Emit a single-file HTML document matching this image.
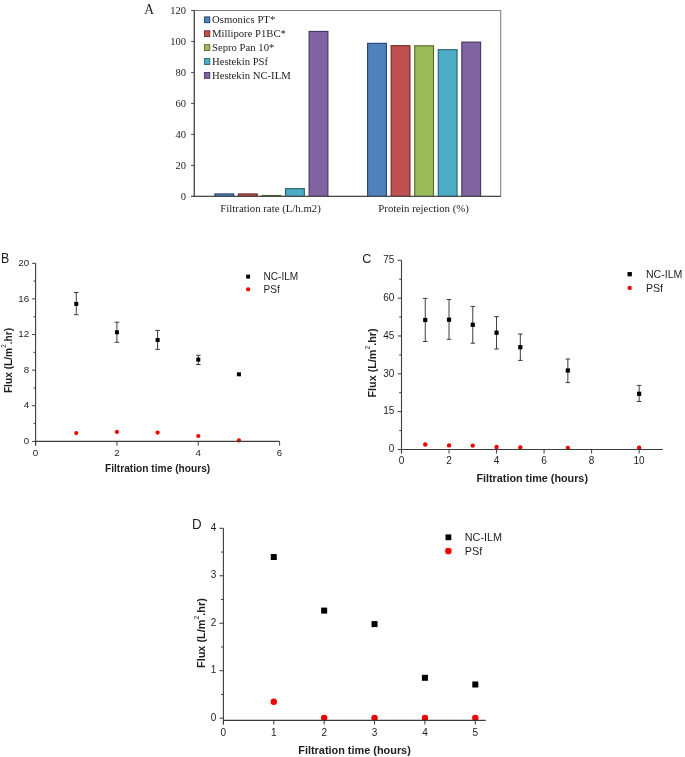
<!DOCTYPE html>
<html><head><meta charset="utf-8"><title>Figure</title>
<style>
html,body{margin:0;padding:0;background:#fff;}
body{width:685px;height:757px;overflow:hidden;}
svg{display:block;will-change:transform;}
</style></head>
<body>
<svg width="685" height="757" viewBox="0 0 685 757">
<rect width="685" height="757" fill="#fff"/>
<g id="pA">
<text x="144.2" y="13.9" font-family='"Liberation Serif", serif' font-size="13.6" fill="#1e1e1e">A</text>
<rect x="194.3" y="10.5" width="306.4" height="185.9" fill="none" stroke="#7a7a7a" stroke-width="1"/>
<rect x="214.9" y="193.92" width="18.8" height="2.48" fill="#4f81bd" stroke="#24406b" stroke-width="1.1"/>
<rect x="238.45" y="193.92" width="18.8" height="2.48" fill="#c0504d" stroke="#6b2a28" stroke-width="1.1"/>
<rect x="262" y="195.47" width="18.8" height="0.93" fill="#9bbb59" stroke="#4f6a28" stroke-width="1.1"/>
<rect x="285.55" y="188.65" width="18.8" height="7.75" fill="#4bacc6" stroke="#22606f" stroke-width="1.1"/>
<rect x="309.1" y="31.41" width="18.8" height="164.99" fill="#8064a2" stroke="#453560" stroke-width="1.1"/>
<rect x="367.6" y="43.34" width="18.8" height="153.06" fill="#4f81bd" stroke="#24406b" stroke-width="1.1"/>
<rect x="391.15" y="45.67" width="18.8" height="150.73" fill="#c0504d" stroke="#6b2a28" stroke-width="1.1"/>
<rect x="414.7" y="45.82" width="18.8" height="150.58" fill="#9bbb59" stroke="#4f6a28" stroke-width="1.1"/>
<rect x="438.25" y="49.69" width="18.8" height="146.71" fill="#4bacc6" stroke="#22606f" stroke-width="1.1"/>
<rect x="461.8" y="42.1" width="18.8" height="154.3" fill="#8064a2" stroke="#453560" stroke-width="1.1"/>
<line x1="194.3" y1="10.5" x2="194.3" y2="196.4" stroke="#4a4a4a" stroke-width="1.2"/>
<line x1="191.1" y1="196.4" x2="500.7" y2="196.4" stroke="#4a4a4a" stroke-width="1.2"/>
<line x1="191.1" y1="196.4" x2="194.3" y2="196.4" stroke="#4a4a4a" stroke-width="1"/>
<text x="185.9" y="199.8" text-anchor="end" font-family='"Liberation Serif", serif' font-size="10.5" fill="#1e1e1e">0</text>
<line x1="191.1" y1="165.42" x2="194.3" y2="165.42" stroke="#4a4a4a" stroke-width="1"/>
<text x="185.9" y="168.82" text-anchor="end" font-family='"Liberation Serif", serif' font-size="10.5" fill="#1e1e1e">20</text>
<line x1="191.1" y1="134.43" x2="194.3" y2="134.43" stroke="#4a4a4a" stroke-width="1"/>
<text x="185.9" y="137.83" text-anchor="end" font-family='"Liberation Serif", serif' font-size="10.5" fill="#1e1e1e">40</text>
<line x1="191.1" y1="103.45" x2="194.3" y2="103.45" stroke="#4a4a4a" stroke-width="1"/>
<text x="185.9" y="106.85" text-anchor="end" font-family='"Liberation Serif", serif' font-size="10.5" fill="#1e1e1e">60</text>
<line x1="191.1" y1="72.47" x2="194.3" y2="72.47" stroke="#4a4a4a" stroke-width="1"/>
<text x="185.9" y="75.87" text-anchor="end" font-family='"Liberation Serif", serif' font-size="10.5" fill="#1e1e1e">80</text>
<line x1="191.1" y1="41.48" x2="194.3" y2="41.48" stroke="#4a4a4a" stroke-width="1"/>
<text x="185.9" y="44.88" text-anchor="end" font-family='"Liberation Serif", serif' font-size="10.5" fill="#1e1e1e">100</text>
<line x1="191.1" y1="10.5" x2="194.3" y2="10.5" stroke="#4a4a4a" stroke-width="1"/>
<text x="185.9" y="13.9" text-anchor="end" font-family='"Liberation Serif", serif' font-size="10.5" fill="#1e1e1e">120</text>
<rect x="204.4" y="16.9" width="5.4" height="5.8" fill="#4f81bd" stroke="#24406b" stroke-width="0.9"/>
<text x="212" y="23.2" font-family='"Liberation Serif", serif' font-size="10.7" fill="#1e1e1e">Osmonics PT*</text>
<rect x="204.4" y="30.8" width="5.4" height="5.8" fill="#c0504d" stroke="#6b2a28" stroke-width="0.9"/>
<text x="212" y="37.1" font-family='"Liberation Serif", serif' font-size="10.7" fill="#1e1e1e">Millipore P1BC*</text>
<rect x="204.4" y="44.7" width="5.4" height="5.8" fill="#9bbb59" stroke="#4f6a28" stroke-width="0.9"/>
<text x="212" y="51" font-family='"Liberation Serif", serif' font-size="10.7" fill="#1e1e1e">Sepro Pan 10*</text>
<rect x="204.4" y="58.6" width="5.4" height="5.8" fill="#4bacc6" stroke="#22606f" stroke-width="0.9"/>
<text x="212" y="64.9" font-family='"Liberation Serif", serif' font-size="10.7" fill="#1e1e1e">Hestekin PSf</text>
<rect x="204.4" y="72.5" width="5.4" height="5.8" fill="#8064a2" stroke="#453560" stroke-width="0.9"/>
<text x="212" y="78.8" font-family='"Liberation Serif", serif' font-size="10.7" fill="#1e1e1e">Hestekin NC-ILM</text>
<text x="270.6" y="211.9" text-anchor="middle" font-family='"Liberation Serif", serif' font-size="10.8" fill="#1e1e1e">Filtration rate (L/h.m2)</text>
<text x="423.6" y="211.9" text-anchor="middle" font-family='"Liberation Serif", serif' font-size="10.8" fill="#1e1e1e">Protein rejection (%)</text>
</g>
<g>
<text transform="translate(1,263) scale(0.88,1)" font-family='"Liberation Sans", sans-serif' font-size="14.0" fill="#1e1e1e">B</text>
<line x1="76.27" y1="292.5" x2="76.27" y2="314.7" stroke="#3c3c3c" stroke-width="1"/>
<line x1="73.97" y1="292.5" x2="78.57" y2="292.5" stroke="#3c3c3c" stroke-width="1"/>
<line x1="73.97" y1="314.7" x2="78.57" y2="314.7" stroke="#3c3c3c" stroke-width="1"/>
<rect x="74.27" y="301.9" width="4.0" height="4.0" fill="#000"/>
<line x1="116.93" y1="322.2" x2="116.93" y2="342.3" stroke="#3c3c3c" stroke-width="1"/>
<line x1="114.63" y1="322.2" x2="119.23" y2="322.2" stroke="#3c3c3c" stroke-width="1"/>
<line x1="114.63" y1="342.3" x2="119.23" y2="342.3" stroke="#3c3c3c" stroke-width="1"/>
<rect x="114.93" y="330.3" width="4.0" height="4.0" fill="#000"/>
<line x1="157.6" y1="330.4" x2="157.6" y2="349.4" stroke="#3c3c3c" stroke-width="1"/>
<line x1="155.3" y1="330.4" x2="159.9" y2="330.4" stroke="#3c3c3c" stroke-width="1"/>
<line x1="155.3" y1="349.4" x2="159.9" y2="349.4" stroke="#3c3c3c" stroke-width="1"/>
<rect x="155.6" y="338" width="4.0" height="4.0" fill="#000"/>
<line x1="198.27" y1="355.3" x2="198.27" y2="364.5" stroke="#3c3c3c" stroke-width="1"/>
<line x1="195.97" y1="355.3" x2="200.57" y2="355.3" stroke="#3c3c3c" stroke-width="1"/>
<line x1="195.97" y1="364.5" x2="200.57" y2="364.5" stroke="#3c3c3c" stroke-width="1"/>
<rect x="196.27" y="357.6" width="4.0" height="4.0" fill="#000"/>
<rect x="236.93" y="372.3" width="4.0" height="4.0" fill="#000"/>
<circle cx="76.27" cy="433.1" r="2.1" fill="#f20000"/>
<circle cx="116.93" cy="431.9" r="2.1" fill="#f20000"/>
<circle cx="157.6" cy="432.6" r="2.1" fill="#f20000"/>
<circle cx="198.27" cy="436" r="2.1" fill="#f20000"/>
<circle cx="238.93" cy="440.4" r="2.1" fill="#f20000"/>
<line x1="35.6" y1="263.3" x2="35.6" y2="445.6" stroke="#3c3c3c" stroke-width="1.1"/>
<line x1="35.6" y1="441.4" x2="279.6" y2="441.4" stroke="#3c3c3c" stroke-width="1.1"/>
<line x1="32.1" y1="441.4" x2="35.6" y2="441.4" stroke="#3c3c3c" stroke-width="1"/>
<text x="29.1" y="444.1" text-anchor="end" font-family='"Liberation Sans", sans-serif' font-size="9.8" fill="#1e1e1e">0</text>
<line x1="32.1" y1="405.78" x2="35.6" y2="405.78" stroke="#3c3c3c" stroke-width="1"/>
<text x="29.1" y="408.48" text-anchor="end" font-family='"Liberation Sans", sans-serif' font-size="9.8" fill="#1e1e1e">4</text>
<line x1="32.1" y1="370.16" x2="35.6" y2="370.16" stroke="#3c3c3c" stroke-width="1"/>
<text x="29.1" y="372.86" text-anchor="end" font-family='"Liberation Sans", sans-serif' font-size="9.8" fill="#1e1e1e">8</text>
<line x1="32.1" y1="334.54" x2="35.6" y2="334.54" stroke="#3c3c3c" stroke-width="1"/>
<text x="29.1" y="337.24" text-anchor="end" font-family='"Liberation Sans", sans-serif' font-size="9.8" fill="#1e1e1e">12</text>
<line x1="32.1" y1="298.92" x2="35.6" y2="298.92" stroke="#3c3c3c" stroke-width="1"/>
<text x="29.1" y="301.62" text-anchor="end" font-family='"Liberation Sans", sans-serif' font-size="9.8" fill="#1e1e1e">16</text>
<line x1="32.1" y1="263.3" x2="35.6" y2="263.3" stroke="#3c3c3c" stroke-width="1"/>
<text x="29.1" y="266" text-anchor="end" font-family='"Liberation Sans", sans-serif' font-size="9.8" fill="#1e1e1e">20</text>
<line x1="33.5" y1="423.59" x2="35.6" y2="423.59" stroke="#3c3c3c" stroke-width="1"/>
<line x1="33.5" y1="387.97" x2="35.6" y2="387.97" stroke="#3c3c3c" stroke-width="1"/>
<line x1="33.5" y1="352.35" x2="35.6" y2="352.35" stroke="#3c3c3c" stroke-width="1"/>
<line x1="33.5" y1="316.73" x2="35.6" y2="316.73" stroke="#3c3c3c" stroke-width="1"/>
<line x1="33.5" y1="281.11" x2="35.6" y2="281.11" stroke="#3c3c3c" stroke-width="1"/>
<line x1="35.6" y1="441.4" x2="35.6" y2="445.6" stroke="#3c3c3c" stroke-width="1"/>
<text x="35.6" y="455.8" text-anchor="middle" font-family='"Liberation Sans", sans-serif' font-size="9.8" fill="#1e1e1e">0</text>
<line x1="116.93" y1="441.4" x2="116.93" y2="445.6" stroke="#3c3c3c" stroke-width="1"/>
<text x="116.93" y="455.8" text-anchor="middle" font-family='"Liberation Sans", sans-serif' font-size="9.8" fill="#1e1e1e">2</text>
<line x1="198.27" y1="441.4" x2="198.27" y2="445.6" stroke="#3c3c3c" stroke-width="1"/>
<text x="198.27" y="455.8" text-anchor="middle" font-family='"Liberation Sans", sans-serif' font-size="9.8" fill="#1e1e1e">4</text>
<line x1="279.6" y1="441.4" x2="279.6" y2="445.6" stroke="#3c3c3c" stroke-width="1"/>
<text x="279.6" y="455.8" text-anchor="middle" font-family='"Liberation Sans", sans-serif' font-size="9.8" fill="#1e1e1e">6</text>
<text x="157.6" y="472.4" text-anchor="middle" font-family='"Liberation Sans", sans-serif' font-weight="bold" font-size="10.2" fill="#1e1e1e">Filtration time (hours)</text>
<text transform="translate(11.9,360.5) rotate(-90)" text-anchor="middle" font-family='"Liberation Sans", sans-serif' font-weight="bold" font-size="10.2" fill="#1e1e1e">Flux (L/m<tspan font-size="6.32" font-weight="normal" dy="-6.12">2</tspan><tspan dy="6.12">.hr)</tspan></text>
<rect x="246.15" y="274.65" width="3.9" height="3.9" fill="#000"/>
<text x="263.5" y="280.3" font-family='"Liberation Sans", sans-serif' font-size="10.1" fill="#1e1e1e">NC-ILM</text>
<circle cx="248.1" cy="289.3" r="2.1" fill="#f20000"/>
<text x="263.5" y="292.6" font-family='"Liberation Sans", sans-serif' font-size="10.1" fill="#1e1e1e">PSf</text>
</g>
<g>
<text transform="translate(362.3,262.8) scale(0.92,1)" font-family='"Liberation Sans", sans-serif' font-size="13.6" fill="#1e1e1e">C</text>
<line x1="425.26" y1="298.4" x2="425.26" y2="341.5" stroke="#3c3c3c" stroke-width="1"/>
<line x1="422.96" y1="298.4" x2="427.56" y2="298.4" stroke="#3c3c3c" stroke-width="1"/>
<line x1="422.96" y1="341.5" x2="427.56" y2="341.5" stroke="#3c3c3c" stroke-width="1"/>
<rect x="423.16" y="317.9" width="4.2" height="4.2" fill="#000"/>
<line x1="449.03" y1="299.5" x2="449.03" y2="339.3" stroke="#3c3c3c" stroke-width="1"/>
<line x1="446.73" y1="299.5" x2="451.33" y2="299.5" stroke="#3c3c3c" stroke-width="1"/>
<line x1="446.73" y1="339.3" x2="451.33" y2="339.3" stroke="#3c3c3c" stroke-width="1"/>
<rect x="446.93" y="317.6" width="4.2" height="4.2" fill="#000"/>
<line x1="472.79" y1="306.4" x2="472.79" y2="343.2" stroke="#3c3c3c" stroke-width="1"/>
<line x1="470.49" y1="306.4" x2="475.09" y2="306.4" stroke="#3c3c3c" stroke-width="1"/>
<line x1="470.49" y1="343.2" x2="475.09" y2="343.2" stroke="#3c3c3c" stroke-width="1"/>
<rect x="470.69" y="322.7" width="4.2" height="4.2" fill="#000"/>
<line x1="496.55" y1="316.6" x2="496.55" y2="349" stroke="#3c3c3c" stroke-width="1"/>
<line x1="494.25" y1="316.6" x2="498.85" y2="316.6" stroke="#3c3c3c" stroke-width="1"/>
<line x1="494.25" y1="349" x2="498.85" y2="349" stroke="#3c3c3c" stroke-width="1"/>
<rect x="494.45" y="330.6" width="4.2" height="4.2" fill="#000"/>
<line x1="520.32" y1="334" x2="520.32" y2="360.4" stroke="#3c3c3c" stroke-width="1"/>
<line x1="518.02" y1="334" x2="522.62" y2="334" stroke="#3c3c3c" stroke-width="1"/>
<line x1="518.02" y1="360.4" x2="522.62" y2="360.4" stroke="#3c3c3c" stroke-width="1"/>
<rect x="518.22" y="345.1" width="4.2" height="4.2" fill="#000"/>
<line x1="567.85" y1="359" x2="567.85" y2="382.6" stroke="#3c3c3c" stroke-width="1"/>
<line x1="565.55" y1="359" x2="570.15" y2="359" stroke="#3c3c3c" stroke-width="1"/>
<line x1="565.55" y1="382.6" x2="570.15" y2="382.6" stroke="#3c3c3c" stroke-width="1"/>
<rect x="565.75" y="368.4" width="4.2" height="4.2" fill="#000"/>
<line x1="639.14" y1="385.4" x2="639.14" y2="401.5" stroke="#3c3c3c" stroke-width="1"/>
<line x1="636.84" y1="385.4" x2="641.44" y2="385.4" stroke="#3c3c3c" stroke-width="1"/>
<line x1="636.84" y1="401.5" x2="641.44" y2="401.5" stroke="#3c3c3c" stroke-width="1"/>
<rect x="637.04" y="391.7" width="4.2" height="4.2" fill="#000"/>
<circle cx="425.26" cy="444.5" r="2.2" fill="#f20000"/>
<circle cx="449.03" cy="445.4" r="2.2" fill="#f20000"/>
<circle cx="472.79" cy="445.6" r="2.2" fill="#f20000"/>
<circle cx="496.55" cy="447" r="2.2" fill="#f20000"/>
<circle cx="520.32" cy="447.5" r="2.2" fill="#f20000"/>
<circle cx="567.85" cy="447.9" r="2.2" fill="#f20000"/>
<circle cx="639.14" cy="447.7" r="2.2" fill="#f20000"/>
<line x1="401.5" y1="260.3" x2="401.5" y2="453.5" stroke="#3c3c3c" stroke-width="1.1"/>
<line x1="401.5" y1="449.5" x2="662.9" y2="449.5" stroke="#3c3c3c" stroke-width="1.1"/>
<line x1="397.7" y1="449.5" x2="401.5" y2="449.5" stroke="#3c3c3c" stroke-width="1"/>
<text x="394.4" y="452.3" text-anchor="end" font-family='"Liberation Sans", sans-serif' font-size="10.0" fill="#1e1e1e">0</text>
<line x1="397.7" y1="411.66" x2="401.5" y2="411.66" stroke="#3c3c3c" stroke-width="1"/>
<text x="394.4" y="414.46" text-anchor="end" font-family='"Liberation Sans", sans-serif' font-size="10.0" fill="#1e1e1e">15</text>
<line x1="397.7" y1="373.82" x2="401.5" y2="373.82" stroke="#3c3c3c" stroke-width="1"/>
<text x="394.4" y="376.62" text-anchor="end" font-family='"Liberation Sans", sans-serif' font-size="10.0" fill="#1e1e1e">30</text>
<line x1="397.7" y1="335.98" x2="401.5" y2="335.98" stroke="#3c3c3c" stroke-width="1"/>
<text x="394.4" y="338.78" text-anchor="end" font-family='"Liberation Sans", sans-serif' font-size="10.0" fill="#1e1e1e">45</text>
<line x1="397.7" y1="298.14" x2="401.5" y2="298.14" stroke="#3c3c3c" stroke-width="1"/>
<text x="394.4" y="300.94" text-anchor="end" font-family='"Liberation Sans", sans-serif' font-size="10.0" fill="#1e1e1e">60</text>
<line x1="397.7" y1="260.3" x2="401.5" y2="260.3" stroke="#3c3c3c" stroke-width="1"/>
<text x="394.4" y="263.1" text-anchor="end" font-family='"Liberation Sans", sans-serif' font-size="10.0" fill="#1e1e1e">75</text>
<line x1="399.22" y1="430.58" x2="401.5" y2="430.58" stroke="#3c3c3c" stroke-width="1"/>
<line x1="399.22" y1="392.74" x2="401.5" y2="392.74" stroke="#3c3c3c" stroke-width="1"/>
<line x1="399.22" y1="354.9" x2="401.5" y2="354.9" stroke="#3c3c3c" stroke-width="1"/>
<line x1="399.22" y1="317.06" x2="401.5" y2="317.06" stroke="#3c3c3c" stroke-width="1"/>
<line x1="399.22" y1="279.22" x2="401.5" y2="279.22" stroke="#3c3c3c" stroke-width="1"/>
<line x1="401.5" y1="449.5" x2="401.5" y2="453.5" stroke="#3c3c3c" stroke-width="1"/>
<text x="401.5" y="463.6" text-anchor="middle" font-family='"Liberation Sans", sans-serif' font-size="10.0" fill="#1e1e1e">0</text>
<line x1="449.03" y1="449.5" x2="449.03" y2="453.5" stroke="#3c3c3c" stroke-width="1"/>
<text x="449.03" y="463.6" text-anchor="middle" font-family='"Liberation Sans", sans-serif' font-size="10.0" fill="#1e1e1e">2</text>
<line x1="496.55" y1="449.5" x2="496.55" y2="453.5" stroke="#3c3c3c" stroke-width="1"/>
<text x="496.55" y="463.6" text-anchor="middle" font-family='"Liberation Sans", sans-serif' font-size="10.0" fill="#1e1e1e">4</text>
<line x1="544.08" y1="449.5" x2="544.08" y2="453.5" stroke="#3c3c3c" stroke-width="1"/>
<text x="544.08" y="463.6" text-anchor="middle" font-family='"Liberation Sans", sans-serif' font-size="10.0" fill="#1e1e1e">6</text>
<line x1="591.61" y1="449.5" x2="591.61" y2="453.5" stroke="#3c3c3c" stroke-width="1"/>
<text x="591.61" y="463.6" text-anchor="middle" font-family='"Liberation Sans", sans-serif' font-size="10.0" fill="#1e1e1e">8</text>
<line x1="639.14" y1="449.5" x2="639.14" y2="453.5" stroke="#3c3c3c" stroke-width="1"/>
<text x="639.14" y="463.6" text-anchor="middle" font-family='"Liberation Sans", sans-serif' font-size="10.0" fill="#1e1e1e">10</text>
<text x="532.2" y="481.6" text-anchor="middle" font-family='"Liberation Sans", sans-serif' font-weight="bold" font-size="10.8" fill="#1e1e1e">Filtration time (hours)</text>
<text transform="translate(376.4,363.0) rotate(-90)" text-anchor="middle" font-family='"Liberation Sans", sans-serif' font-weight="bold" font-size="10.8" fill="#1e1e1e">Flux (L/m<tspan font-size="6.7" font-weight="normal" dy="-6.48">2</tspan><tspan dy="6.48">.hr)</tspan></text>
<rect x="627.55" y="272.05" width="4.3" height="4.3" fill="#000"/>
<text x="645.9" y="277.7" font-family='"Liberation Sans", sans-serif' font-size="10.6" fill="#1e1e1e">NC-ILM</text>
<circle cx="629.7" cy="287.9" r="2.2" fill="#f20000"/>
<text x="645.9" y="291.5" font-family='"Liberation Sans", sans-serif' font-size="10.6" fill="#1e1e1e">PSf</text>
</g>
<g>
<text transform="translate(191.9,528.9) scale(0.96,1)" font-family='"Liberation Sans", sans-serif' font-size="13.9" fill="#1e1e1e">D</text>
<rect x="270.78" y="554" width="6.0" height="6.0" fill="#000"/>
<rect x="321.16" y="607.6" width="6.0" height="6.0" fill="#000"/>
<rect x="371.54" y="621.1" width="6.0" height="6.0" fill="#000"/>
<rect x="421.92" y="674.8" width="6.0" height="6.0" fill="#000"/>
<rect x="472.3" y="681.5" width="6.0" height="6.0" fill="#000"/>
<circle cx="273.78" cy="701.7" r="3.2" fill="#f20000"/>
<circle cx="324.16" cy="718" r="3.2" fill="#f20000"/>
<circle cx="374.54" cy="718" r="3.2" fill="#f20000"/>
<circle cx="424.92" cy="718" r="3.2" fill="#f20000"/>
<circle cx="475.3" cy="718" r="3.2" fill="#f20000"/>
<line x1="223.4" y1="528.3" x2="223.4" y2="724.5" stroke="#3c3c3c" stroke-width="1.1"/>
<line x1="223.4" y1="720.4" x2="485.7" y2="720.4" stroke="#3c3c3c" stroke-width="1.1"/>
<line x1="219.5" y1="718.2" x2="223.4" y2="718.2" stroke="#3c3c3c" stroke-width="1"/>
<text x="216.3" y="720.8" text-anchor="end" font-family='"Liberation Sans", sans-serif' font-size="10.0" fill="#1e1e1e">0</text>
<line x1="219.5" y1="670.73" x2="223.4" y2="670.73" stroke="#3c3c3c" stroke-width="1"/>
<text x="216.3" y="673.33" text-anchor="end" font-family='"Liberation Sans", sans-serif' font-size="10.0" fill="#1e1e1e">1</text>
<line x1="219.5" y1="623.25" x2="223.4" y2="623.25" stroke="#3c3c3c" stroke-width="1"/>
<text x="216.3" y="625.85" text-anchor="end" font-family='"Liberation Sans", sans-serif' font-size="10.0" fill="#1e1e1e">2</text>
<line x1="219.5" y1="575.77" x2="223.4" y2="575.77" stroke="#3c3c3c" stroke-width="1"/>
<text x="216.3" y="578.38" text-anchor="end" font-family='"Liberation Sans", sans-serif' font-size="10.0" fill="#1e1e1e">3</text>
<line x1="219.5" y1="528.3" x2="223.4" y2="528.3" stroke="#3c3c3c" stroke-width="1"/>
<text x="216.3" y="530.9" text-anchor="end" font-family='"Liberation Sans", sans-serif' font-size="10.0" fill="#1e1e1e">4</text>
<line x1="221.06" y1="694.46" x2="223.4" y2="694.46" stroke="#3c3c3c" stroke-width="1"/>
<line x1="221.06" y1="646.99" x2="223.4" y2="646.99" stroke="#3c3c3c" stroke-width="1"/>
<line x1="221.06" y1="599.51" x2="223.4" y2="599.51" stroke="#3c3c3c" stroke-width="1"/>
<line x1="221.06" y1="552.04" x2="223.4" y2="552.04" stroke="#3c3c3c" stroke-width="1"/>
<line x1="223.4" y1="720.4" x2="223.4" y2="724.5" stroke="#3c3c3c" stroke-width="1"/>
<text x="223.4" y="735.5" text-anchor="middle" font-family='"Liberation Sans", sans-serif' font-size="10.0" fill="#1e1e1e">0</text>
<line x1="273.78" y1="720.4" x2="273.78" y2="724.5" stroke="#3c3c3c" stroke-width="1"/>
<text x="273.78" y="735.5" text-anchor="middle" font-family='"Liberation Sans", sans-serif' font-size="10.0" fill="#1e1e1e">1</text>
<line x1="324.16" y1="720.4" x2="324.16" y2="724.5" stroke="#3c3c3c" stroke-width="1"/>
<text x="324.16" y="735.5" text-anchor="middle" font-family='"Liberation Sans", sans-serif' font-size="10.0" fill="#1e1e1e">2</text>
<line x1="374.54" y1="720.4" x2="374.54" y2="724.5" stroke="#3c3c3c" stroke-width="1"/>
<text x="374.54" y="735.5" text-anchor="middle" font-family='"Liberation Sans", sans-serif' font-size="10.0" fill="#1e1e1e">3</text>
<line x1="424.92" y1="720.4" x2="424.92" y2="724.5" stroke="#3c3c3c" stroke-width="1"/>
<text x="424.92" y="735.5" text-anchor="middle" font-family='"Liberation Sans", sans-serif' font-size="10.0" fill="#1e1e1e">4</text>
<line x1="475.3" y1="720.4" x2="475.3" y2="724.5" stroke="#3c3c3c" stroke-width="1"/>
<text x="475.3" y="735.5" text-anchor="middle" font-family='"Liberation Sans", sans-serif' font-size="10.0" fill="#1e1e1e">5</text>
<text x="354.55" y="753.7" text-anchor="middle" font-family='"Liberation Sans", sans-serif' font-weight="bold" font-size="10.9" fill="#1e1e1e">Filtration time (hours)</text>
<text transform="translate(205.2,633.1) rotate(-90)" text-anchor="middle" font-family='"Liberation Sans", sans-serif' font-weight="bold" font-size="10.9" fill="#1e1e1e">Flux (L/m<tspan font-size="6.76" font-weight="normal" dy="-6.54">2</tspan><tspan dy="6.54">.hr)</tspan></text>
<rect x="445.5" y="534.4" width="5.8" height="5.8" fill="#000"/>
<text x="464.8" y="541.1" font-family='"Liberation Sans", sans-serif' font-size="10.8" fill="#1e1e1e">NC-ILM</text>
<circle cx="448.4" cy="551.1" r="3.3" fill="#f20000"/>
<text x="464.8" y="554.6" font-family='"Liberation Sans", sans-serif' font-size="10.8" fill="#1e1e1e">PSf</text>
</g>
</svg>
</body></html>
